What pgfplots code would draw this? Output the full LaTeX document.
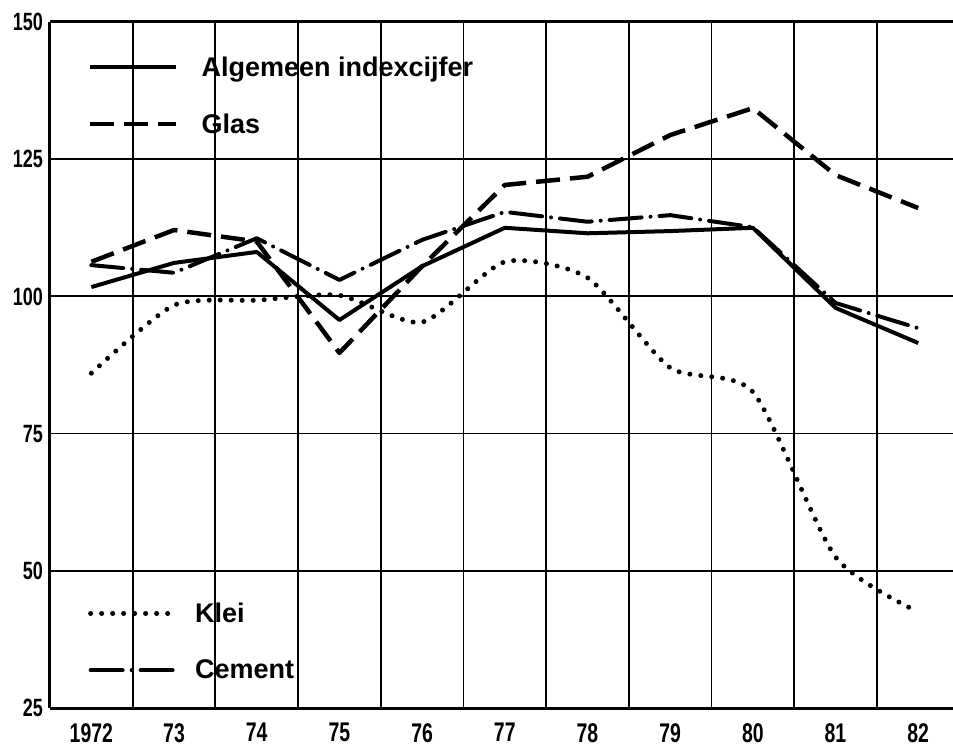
\documentclass[border=0pt]{standalone}
\usepackage{fontspec}
\setmainfont{Liberation Sans}
\newfontfamily\condfont[FakeStretch=0.72]{Liberation Sans}
\usepackage{pgfplots}
\pgfplotsset{compat=1.18}

\pgfplotstableread{
year alg glas cement klei
1972 101.7 106.3 105.7 86.0
1973 106.1 112.1 104.3 98.4
1974 108.1 110.0 110.6 99.3
1975 95.7 89.7 103.0 100.2
1976 105.5 105.5 110.3 95.3
1977 112.5 120.3 115.4 106.3
1978 111.5 121.8 113.6 103.4
1979 111.9 129.4 114.8 87.0
1980 112.5 134.3 112.6 82.6
1981 97.9 122.1 98.8 52.5
1982 91.5 116.1 94.2 42.5
}\data
\usepackage{pgfplotstable}

\begin{document}
\begin{tikzpicture}
\useasboundingbox (-50pt,-39pt) rectangle (903pt,708pt);
\pgfplotsset{
  base/.style={scale only axis, width=903pt, height=686pt,
    xmin=1971.5, xmax=1982.42, ymin=25, ymax=150,
    at={(0pt,0pt)}, anchor=south west,
    legend image code/.code={\draw[##1] (0pt,0pt) -- (86pt,0pt);},
    legend cell align=left,
    legend style={draw=none, fill=none, inner sep=0pt, row sep=36pt,
      font=\bfseries\fontsize{27}{27}\selectfont,
      nodes={inner sep=0pt}, column sep=0pt},
  },
  solidS/.style={black, line width=4pt, line join=round},
  glasS/.style={black, line width=4.5pt, dash pattern=on 24pt off 10pt, line join=round},
  cemS/.style={black, line width=4pt, line cap=round, line join=round, dash pattern=on 32pt off 9pt on 0pt off 9pt},
  kleiS/.style={black, line width=5pt, line cap=round, dash pattern=on 0pt off 11pt},
}
\begin{axis}[base,
  axis x line=box, axis y line=left,
  x axis line style={line width=3pt},
  y axis line style={line width=3pt,-},
  xtick={1972,...,1982},
  xticklabels={1972,73,74,75,76,77,78,79,80,81,82},
  minor xtick={1972.5,1973.5,...,1981.5},
  ytick={25,50,75,100,125,150},
  yticklabels={25,50,75,100,125,150},
  major tick length=0pt, minor tick length=0pt,
  xminorgrids=true, ymajorgrids=true, xmajorgrids=false,
  grid style={black, line width=1.8pt},
  minor grid style={black, line width=1.8pt},
  xticklabel style={font=\condfont\bfseries\fontsize{27}{27}\selectfont, inner sep=0pt, yshift=-15pt},
  yticklabel style={font=\condfont\bfseries\fontsize{25}{25}\selectfont, inner sep=0pt, xshift=-7pt},
  legend style={at={(0.042,0.95)}, anchor=north west},
]
\addplot[solidS] table[x=year, y=alg] {\data};
\addlegendentry{\hspace{23pt}Algemeen indexcijfer}
\addplot[glasS] table[x=year, y=glas] {\data};
\addlegendentry{\hspace{23pt}Glas}
\end{axis}
\begin{axis}[base, hide axis,
  legend style={at={(0.042,0.04)}, anchor=south west},
]
\addplot[kleiS, smooth, tension=0.4] table[x=year, y=klei] {\data};
\addlegendentry{\hspace{16pt}Klei}
\addplot[cemS] table[x=year, y=cement] {\data};
\addlegendentry{\hspace{16pt}Cement}
\end{axis}
\end{tikzpicture}
\end{document}
